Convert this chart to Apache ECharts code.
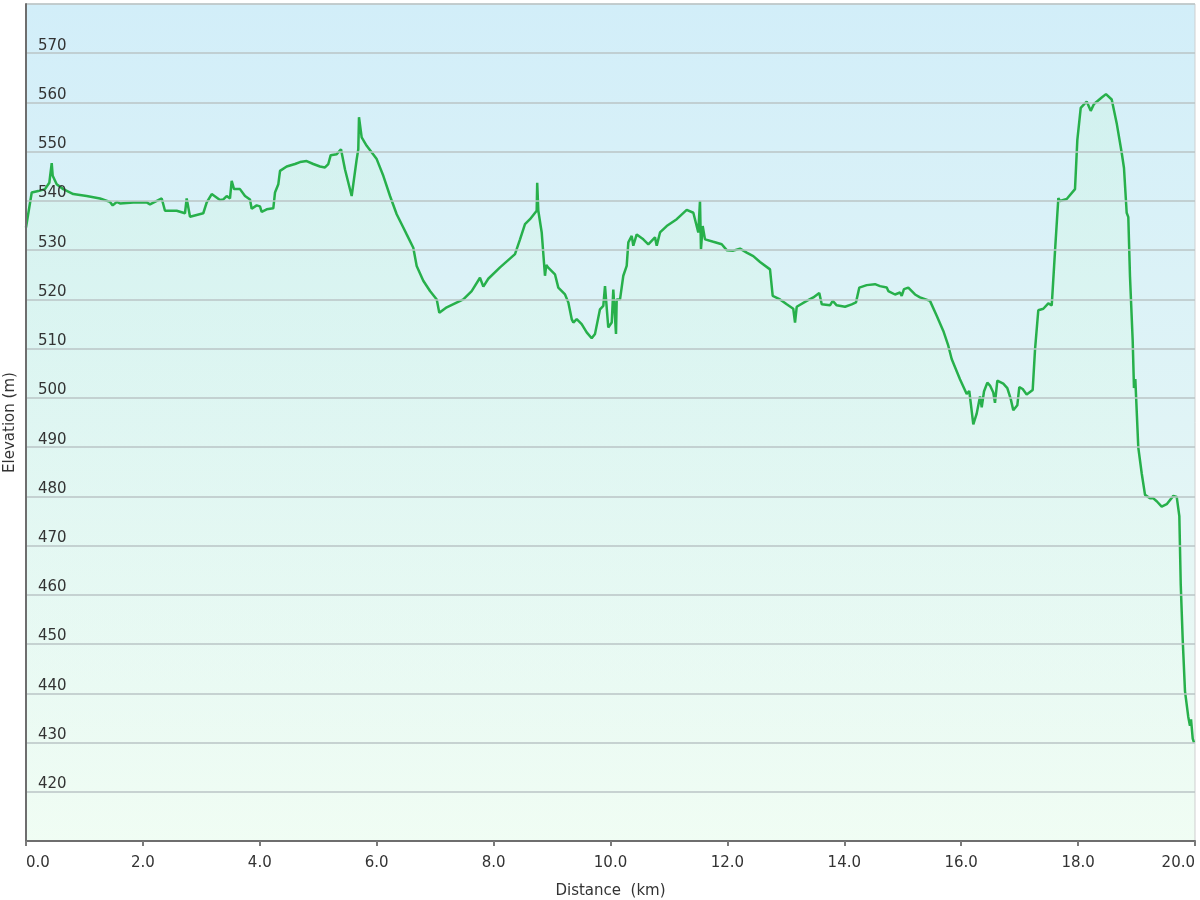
<!DOCTYPE html>
<html>
<head>
<meta charset="utf-8">
<script src="https://cdn.jsdelivr.net/npm/echarts@6/dist/echarts.min.js"></script>
<style>
  html, body { margin: 0; padding: 0; background: #ffffff; }
  #chart { width: 1200px; height: 900px; }
</style>
</head>
<body>
<div id="chart"></div>
<script>
// Distance along the route (km)
const distanceKm = [
  0.000, 0.098, 0.210, 0.325, 0.399, 0.440, 0.457, 0.525, 0.638, 0.809,
  1.038, 1.266, 1.437, 1.483, 1.552, 1.608, 1.836, 2.065, 2.121, 2.322,
  2.378, 2.578, 2.720, 2.749, 2.806, 3.033, 3.092, 3.177, 3.319, 3.376,
  3.434, 3.490, 3.519, 3.559, 3.661, 3.747, 3.832, 3.861, 3.947, 4.003,
  4.032, 4.118, 4.231, 4.260, 4.317, 4.346, 4.460, 4.602, 4.688, 4.802,
  4.915, 5.030, 5.115, 5.172, 5.213, 5.316, 5.389, 5.458, 5.572, 5.658,
  5.685, 5.697, 5.743, 5.829, 6.000, 6.113, 6.228, 6.342, 6.455, 6.513,
  6.626, 6.684, 6.797, 6.912, 7.027, 7.071, 7.198, 7.482, 7.625, 7.767,
  7.824, 7.909, 8.110, 8.366, 8.452, 8.537, 8.623, 8.737, 8.746, 8.765,
  8.823, 8.879, 8.902, 8.931, 8.965, 9.050, 9.107, 9.222, 9.278, 9.336,
  9.364, 9.422, 9.507, 9.593, 9.678, 9.735, 9.820, 9.877, 9.906, 9.962,
  10.021, 10.048, 10.094, 10.106, 10.163, 10.219, 10.277, 10.305, 10.363, 10.390,
  10.448, 10.561, 10.647, 10.761, 10.791, 10.847, 10.961, 11.133, 11.304, 11.417,
  11.502, 11.531, 11.548, 11.577, 11.617, 11.759, 11.903, 11.988, 12.101, 12.216,
  12.330, 12.443, 12.558, 12.729, 12.775, 12.900, 13.015, 13.127, 13.157, 13.186,
  13.357, 13.470, 13.572, 13.614, 13.755, 13.802, 13.870, 14.012, 14.127, 14.200,
  14.257, 14.383, 14.525, 14.611, 14.726, 14.753, 14.868, 14.953, 14.982, 15.021,
  15.095, 15.210, 15.295, 15.466, 15.581, 15.694, 15.779, 15.837, 15.979, 16.094,
  16.138, 16.162, 16.207, 16.265, 16.322, 16.351, 16.390, 16.447, 16.493, 16.549,
  16.578, 16.618, 16.720, 16.789, 16.847, 16.891, 16.960, 16.994, 17.052, 17.120,
  17.223, 17.263, 17.319, 17.405, 17.490, 17.549, 17.605, 17.662, 17.690, 17.805,
  17.947, 17.987, 18.045, 18.147, 18.216, 18.272, 18.404, 18.477, 18.575, 18.660,
  18.746, 18.785, 18.831, 18.859, 18.888, 18.934, 18.956, 18.979, 19.030, 19.088,
  19.145, 19.230, 19.287, 19.345, 19.430, 19.516, 19.629, 19.687, 19.732, 19.756,
  19.790, 19.829, 19.885, 19.914, 19.932, 19.961, 19.983
];

// Elevation at each distance (m)
const elevationM = [
  534.6, 541.7, 542.0, 542.4, 543.7, 547.7, 545.1, 543.4, 542.4, 541.4,
  541.0, 540.5, 539.8, 539.1, 539.8, 539.5, 539.7, 539.7, 539.3, 540.5,
  538.0, 538.0, 537.5, 540.5, 536.8, 537.5, 539.7, 541.4, 540.2, 540.3,
  541.0, 540.5, 544.1, 542.4, 542.4, 541.0, 540.3, 538.4, 539.1, 538.9,
  537.8, 538.3, 538.5, 541.7, 543.4, 546.1, 547.0, 547.5, 547.9, 548.1,
  547.5, 547.0, 546.8, 547.5, 549.3, 549.5, 550.5, 546.4, 541.0, 548.5,
  550.5, 557.0, 552.9, 551.2, 548.5, 545.1, 541.0, 537.3, 534.6, 533.2,
  530.5, 526.8, 523.8, 521.7, 520.0, 517.3, 518.4, 520.0, 521.7, 524.4,
  522.6, 524.2, 526.5, 529.2, 532.2, 535.3, 536.3, 538.0, 543.7, 538.0,
  533.6, 524.8, 527.0, 526.5, 526.1, 525.1, 522.4, 521.0, 519.4, 516.0,
  515.3, 516.0, 515.0, 513.3, 512.1, 513.0, 518.0, 518.7, 522.7, 514.3,
  515.3, 522.0, 513.0, 520.0, 520.0, 524.8, 526.8, 531.6, 532.9, 530.9,
  533.2, 532.2, 531.2, 532.6, 530.9, 533.6, 534.9, 536.3, 538.2, 537.6,
  533.6, 540.0, 530.2, 534.9, 532.2, 531.7, 531.2, 530.0, 529.9, 530.3,
  529.5, 528.8, 527.6, 526.1, 520.7, 520.0, 519.0, 518.1, 515.3, 518.5,
  519.7, 520.4, 521.3, 519.0, 518.8, 519.7, 518.8, 518.5, 519.0, 519.4,
  522.4, 522.9, 523.1, 522.7, 522.4, 521.7, 521.0, 521.4, 520.7, 522.1,
  522.4, 521.0, 520.4, 519.7, 516.7, 513.6, 510.6, 507.9, 503.8, 500.8,
  501.4, 499.1, 494.6, 496.8, 500.3, 498.1, 501.3, 503.1, 502.5, 501.1,
  499.0, 503.5, 502.9, 502.0, 499.8, 497.5, 498.5, 502.2, 501.8, 500.7,
  501.6, 509.8, 517.8, 518.1, 519.2, 518.8, 529.8, 540.6, 540.0, 540.4,
  542.4, 552.4, 558.9, 560.2, 558.3, 559.7, 561.0, 561.7, 560.6, 555.8,
  549.8, 546.7, 537.6, 536.7, 524.6, 511.6, 502.0, 503.8, 489.9, 484.7,
  480.3, 479.6, 479.6, 479.0, 477.9, 478.4, 480.1, 479.9, 476.0, 462.1,
  450.8, 440.4, 435.2, 433.4, 434.7, 430.8, 430.0
];

// Axis ranges / ticks
const xRange = [0, 20];
const xTickStep = 2;
const yRange = [410, 580];
const yTickStep = 10;

const profile = distanceKm.map((d, i) => [d, elevationM[i]]);

const FONT = 'DejaVu Sans';
const chart = echarts.init(document.getElementById('chart'), null, { renderer: 'canvas' });

chart.setOption({
  animation: false,
  backgroundColor: '#ffffff',
  grid: {
    left: 26, right: 5, top: 4, bottom: 59,
    containLabel: false,
    outerBoundsMode: 'none',
    show: true,
    borderColor: '#cfcfcf',
    borderWidth: 1,
    backgroundColor: new echarts.graphic.LinearGradient(0, 0, 0, 1, [
      { offset: 0, color: '#d2eef9' },
      { offset: 0.5, color: '#e0f4f6' },
      { offset: 1, color: '#f0fcf3' }
    ])
  },
  xAxis: {
    type: 'value',
    min: xRange[0], max: xRange[1], interval: xTickStep,
    z: 10,
    name: 'Distance  (km)',
    nameLocation: 'middle',
    nameGap: 43,
    nameTextStyle: { fontFamily: FONT, fontSize: 15, color: '#333333' },
    axisLine: { show: true, onZero: false, lineStyle: { color: '#6e6e6e', width: 2 } },
    axisTick: { show: true, length: 5, lineStyle: { color: '#7a7a7a', width: 2 } },
    axisLabel: {
      fontFamily: FONT, fontSize: 15, color: '#333333', margin: 15,
      alignMinLabel: 'left', alignMaxLabel: 'right',
      formatter: v => v.toFixed(1)
    },
    splitLine: { show: false }
  },
  yAxis: {
    type: 'value',
    min: yRange[0], max: yRange[1], interval: yTickStep,
    z: 10,
    name: 'Elevation (m)',
    nameLocation: 'middle',
    nameGap: 2,
    nameTextStyle: { fontFamily: FONT, fontSize: 15, color: '#333333' },
    axisLine: { show: true, lineStyle: { color: '#6e6e6e', width: 2 } },
    axisTick: { show: false },
    axisLabel: {
      inside: true, margin: 12,
      showMinLabel: false, showMaxLabel: false,
      verticalAlign: 'bottom',
      fontFamily: FONT, fontSize: 15, color: '#333333'
    },
    splitLine: { show: true, lineStyle: { color: '#bac4c6', width: 1.5 } }
  },
  series: [{
    type: 'line',
    data: profile,
    showSymbol: false,
    smooth: false,
    lineStyle: { color: '#27b04b', width: 2.5 },
    areaStyle: {
      origin: 'start',
      color: new echarts.graphic.LinearGradient(0, 0, 0, 1, [
        { offset: 0, color: 'rgba(205, 245, 225, 0.55)' },
        { offset: 1, color: 'rgba(240, 255, 245, 0.4)' }
      ])
    },
    z: 2
  }]
});
</script>
</body>
</html>
